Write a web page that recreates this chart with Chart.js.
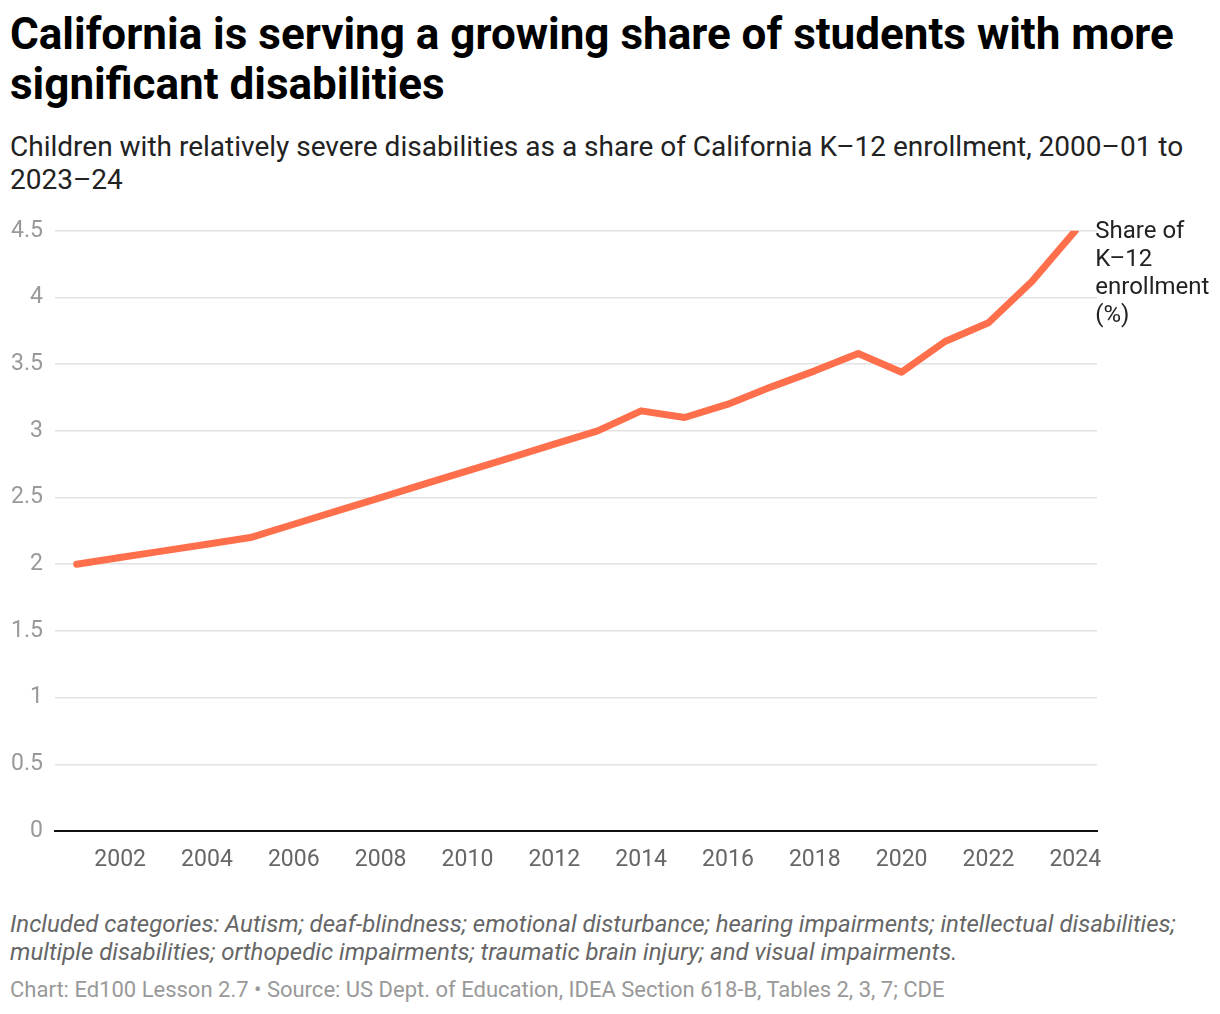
<!DOCTYPE html>
<html>
<head>
<meta charset="utf-8">
<script src="https://cdn.jsdelivr.net/npm/chart.js@4"></script>
<style>
  body { margin: 0; background: #fff; font-family: Roboto, sans-serif; }
  #page { position: relative; width: 1220px; height: 1014px; overflow: hidden; }
  .txt { position: absolute; left: 10px; white-space: nowrap; }
  #title { top: 9px; font-size: 44px; font-weight: 700; line-height: 50px; color: #000; }
  #subtitle { top: 130px; font-size: 28px; line-height: 33px; color: #222; }
  #note { top: 910px; font-size: 24px; font-style: italic; line-height: 28px; color: #666; }
  #source { top: 977px; font-size: 22px; line-height: 26px; color: #999; }
  #wrap { position: absolute; left: 0; top: 205px; width: 1220px; height: 685px; }
</style>
</head>
<body>
<div id="page">
  <div id="title" class="txt">California is serving a growing share of students with more<br>significant disabilities</div>
  <div id="subtitle" class="txt">Children with relatively severe disabilities as a share of California K–12 enrollment, 2000–01 to<br>2023–24</div>
  <div id="wrap"><canvas id="chart"></canvas></div>
  <div id="note" class="txt">Included categories: Autism; deaf-blindness; emotional disturbance; hearing impairments; intellectual disabilities;<br>multiple disabilities; orthopedic impairments; traumatic brain injury; and visual impairments.</div>
  <div id="source" class="txt">Chart: Ed100 Lesson 2.7 • Source: US Dept. of Education, IDEA Section 618-B, Tables 2, 3, 7; CDE</div>
</div>
<script>
const years = ['2001', '2002', '2003', '2004', '2005', '2006', '2007', '2008', '2009', '2010', '2011', '2012',
               '2013', '2014', '2015', '2016', '2017', '2018', '2019', '2020', '2021', '2022', '2023', '2024'];
const sharePct = [2.0, 2.05, 2.1, 2.15, 2.2, 2.3, 2.4, 2.5, 2.6, 2.7, 2.8, 2.9,
                  3.0, 3.15, 3.1, 3.2, 3.33, 3.45, 3.58, 3.44, 3.67, 3.81, 4.12, 4.5];
const yTicks = [0, 0.5, 1, 1.5, 2, 2.5, 3, 3.5, 4, 4.5];
const seriesLabel = ['Share of', 'K–12', 'enrollment', '(%)'];

// label next to the last point of the line
const endLabel = {
  id: 'endLabel',
  afterDatasetsDraw(chart) {
    const meta = chart.getDatasetMeta(0);
    const last = meta.data[meta.data.length - 1];
    const ctx = chart.ctx;
    ctx.save();
    ctx.font = '24px Roboto';
    ctx.fillStyle = '#222';
    ctx.textAlign = 'left';
    ctx.textBaseline = 'middle';
    seriesLabel.forEach((line, i) => {
      ctx.fillText(line, last.x + 20, last.y + 1 + i * 28);
    });
    ctx.restore();
  }
};

const ctx = document.getElementById('chart').getContext('2d');
new Chart(ctx, {
  type: 'line',
  data: {
    labels: years,
    datasets: [{
      data: sharePct,
      borderColor: '#ff6f4b',
      borderWidth: 7,
      borderCapStyle: 'round',
      borderJoinStyle: 'round',
      pointRadius: 0,
      tension: 0
    }]
  },
  options: {
    responsive: true,
    maintainAspectRatio: false,
    animation: false,
    layout: { autoPadding: false, padding: { top: 21, right: 123, bottom: 0, left: 0 } },
    plugins: { legend: { display: false }, tooltip: { enabled: false } },
    scales: {
      x: {
        offset: true,
        grid: { display: false, drawTicks: false },
        border: { display: true, color: '#111', width: 2 },
        ticks: {
          autoSkip: false,
          maxRotation: 0,
          padding: 15,
          color: '#666',
          font: { family: 'Roboto', size: 23 },
          callback: function (value) {
            const y = Number(this.getLabelForValue(value));
            return y % 2 === 0 ? String(y) : '';
          }
        },
        afterFit: (scale) => { scale.height = 59; }
      },
      y: {
        min: 0,
        max: 4.5,
        afterBuildTicks: (scale) => { scale.ticks = yTicks.map(v => ({ value: v })); },
        grid: {
          drawTicks: false,
          color: (c) => c.tick && c.tick.value === 0 ? 'rgba(0,0,0,0)' : '#e3e3e3',
          lineWidth: 1.5
        },
        border: { display: false },
        ticks: {
          padding: 12,
          color: '#999',
          font: { family: 'Roboto', size: 23 },
          callback: (v) => String(v)
        },
        afterFit: (scale) => { scale.width = 55; }
      }
    }
  },
  plugins: [endLabel]
});
</script>
</body>
</html>
